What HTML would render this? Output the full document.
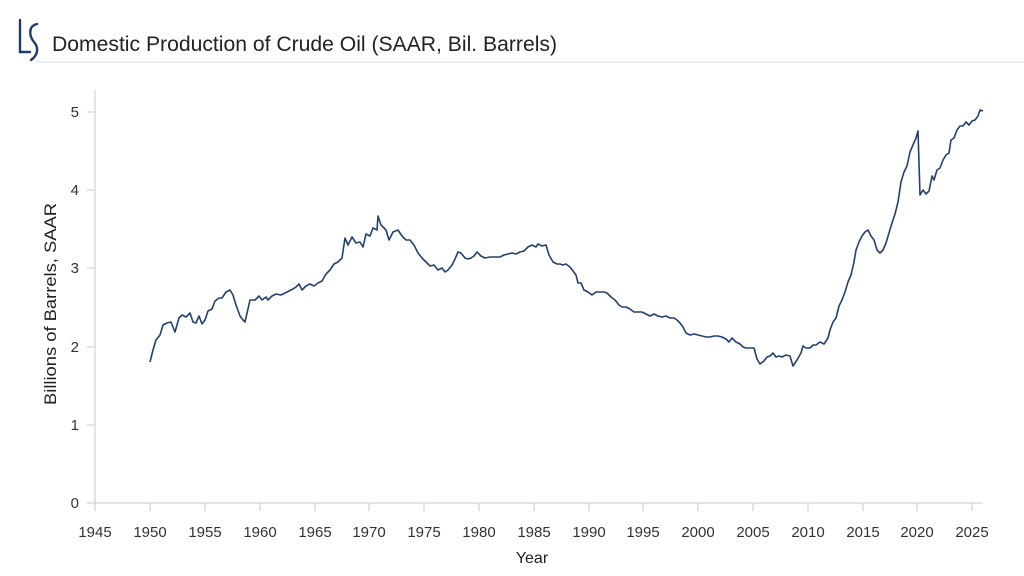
<!DOCTYPE html>
<html><head><meta charset="utf-8"><style>
html,body{margin:0;padding:0;background:#fff;}
svg{display:block;font-family:"Liberation Sans",sans-serif;}
</style></head><body>
<svg width="1024" height="576" viewBox="0 0 1024 576">
<g fill="none" stroke="#1f3b6b" stroke-width="2.4" stroke-linecap="round">
<path d="M20 20 L20 52 L30 52"/>
<path d="M37 24 C28 26 29 36 34 42 C39 48 38 55 31 60"/>
</g>
<line x1="36" y1="62" x2="1024" y2="62" stroke="#cfe0ef" stroke-width="1"/>
<text x="52" y="51" font-size="21" fill="#222" textLength="505" lengthAdjust="spacingAndGlyphs">Domestic Production of Crude Oil (SAAR, Bil. Barrels)</text>

<g stroke="#c8c8c8" stroke-width="1">
<line x1="95" y1="90" x2="95" y2="511"/>
<line x1="87" y1="503" x2="983" y2="503"/>
<line x1="87" y1="425" x2="95" y2="425"/>
<line x1="87" y1="347" x2="95" y2="347"/>
<line x1="87" y1="268" x2="95" y2="268"/>
<line x1="87" y1="190" x2="95" y2="190"/>
<line x1="87" y1="112" x2="95" y2="112"/>
<line x1="150" y1="503" x2="150" y2="511"/>
<line x1="205" y1="503" x2="205" y2="511"/>
<line x1="260" y1="503" x2="260" y2="511"/>
<line x1="315" y1="503" x2="315" y2="511"/>
<line x1="369" y1="503" x2="369" y2="511"/>
<line x1="424" y1="503" x2="424" y2="511"/>
<line x1="479" y1="503" x2="479" y2="511"/>
<line x1="534" y1="503" x2="534" y2="511"/>
<line x1="589" y1="503" x2="589" y2="511"/>
<line x1="643" y1="503" x2="643" y2="511"/>
<line x1="698" y1="503" x2="698" y2="511"/>
<line x1="753" y1="503" x2="753" y2="511"/>
<line x1="808" y1="503" x2="808" y2="511"/>
<line x1="863" y1="503" x2="863" y2="511"/>
<line x1="917" y1="503" x2="917" y2="511"/>
<line x1="972" y1="503" x2="972" y2="511"/>
</g>
<g font-size="15" fill="#333" text-anchor="end">
<text x="79" y="508">0</text><text x="79" y="430">1</text><text x="79" y="352">2</text>
<text x="79" y="273">3</text><text x="79" y="195">4</text><text x="79" y="117">5</text>
</g>
<g font-size="15" fill="#333" text-anchor="middle">
<text x="95" y="537">1945</text><text x="150" y="537">1950</text><text x="205" y="537">1955</text>
<text x="260" y="537">1960</text><text x="315" y="537">1965</text><text x="369" y="537">1970</text>
<text x="424" y="537">1975</text><text x="479" y="537">1980</text><text x="534" y="537">1985</text>
<text x="589" y="537">1990</text><text x="643" y="537">1995</text><text x="698" y="537">2000</text>
<text x="753" y="537">2005</text><text x="808" y="537">2010</text><text x="863" y="537">2015</text>
<text x="917" y="537">2020</text><text x="972" y="537">2025</text>
</g>
<text x="532" y="563" font-size="16" fill="#222" text-anchor="middle">Year</text>
<text transform="translate(56,304) rotate(-90)" font-size="17" fill="#222" text-anchor="middle" textLength="202" lengthAdjust="spacingAndGlyphs">Billions of Barrels, SAAR</text>

<polyline fill="none" stroke="#23416f" stroke-width="1.6" stroke-linejoin="round" points="150,362 153,350 156,340 160,335 163,325 167,323 171,322 175,332 179,318 182,315 186,317 190,313 193,322 196,323 199,316 202,324 205,320 208,311 212,309 215,301 219,298 222,298 226,292 230,290 233,295 236,305 240,316 243,320 245,322 250,300 255,300 259,296 262,300 266,297 268,300 272,296 276,294 281,295 285,293 289,291 293,289 296,287 299,284 302,290 306,286 310,284 314,286 318,283 322,281 326,274 330,270 334,264 338,262 342,258 345,238 348,245 352,237 356,243 360,242 363,247 366,234 370,236 373,228 377,230 378,216 381,225 386,230 389,240 393,232 398,230 402,236 406,240 410,240 414,245 418,253 422,258 426,262 430,266 434,265 438,270 442,268 445,272 448,270 452,265 455,259 458,252 461,253 465,258 468,259 471,258 474,256 477,252 481,256 485,258 490,257 495,257 500,257 504,255 508,254 512,253 516,254 520,252 524,251 528,247 532,245 536,247 538,244 542,246 546,245 549,255 553,262 557,264 560,264 563,265 566,264 570,267 573,271 576,275 578,283 581,283 584,290 588,292 592,295 596,292 600,292 604,292 607,293 611,297 615,300 619,305 622,307 626,307 630,309 634,312 638,312 642,312 646,314 650,316 654,314 658,316 662,317 666,316 670,318 674,318 677,320 680,323 683,327 686,333 690,335 694,334 698,335 702,336 706,337 710,337 714,336 718,336 722,337 726,339 729,342 732,338 736,342 740,344 743,347 746,348 750,348 754,348 757,359 760,364 764,361 767,357 770,356 773,353 776,357 779,356 782,357 786,355 790,356 793,366 797,360 801,353 803,346 806,348 810,348 813,345 816,345 820,342 824,344 828,338 830,330 833,322 836,318 839,306 842,300 845,292 848,282 851,275 854,262 856,250 859,242 862,236 865,232 868,230 871,236 874,240 877,250 880,253 883,250 886,243 889,233 892,223 895,214 898,202 901,182 904,172 907,166 910,152 913,145 916,138 918,131 920,195 923,190 926,194 929,191 932,176 934,180 937,170 940,168 943,160 946,155 949,153 951,140 954,138 957,130 960,126 963,126 966,122 969,125 972,121 975,120 978,116 980,110 983,111"/>
</svg>
</body></html>
